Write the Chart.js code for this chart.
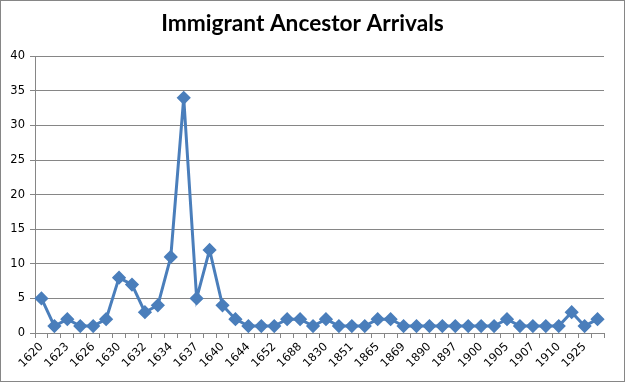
<!DOCTYPE html>
<html>
<head>
<meta charset="utf-8">
<script src="https://cdn.jsdelivr.net/npm/chart.js@4"></script>
<style>
  html, body { margin: 0; padding: 0; background: #fff; }
  #wrap { width: 623px; height: 380px; border: 1px solid #868686; position: relative; }
  canvas { display: block; }
</style>
</head>
<body>
<div id="wrap"><canvas id="c" width="623" height="380"></canvas></div>
<script>
// Categories (odd-index years are hidden on the axis; estimated)
const years = ["1620","1621","1623","1624","1626","1628","1630","1631","1632","1633",
               "1634","1635","1637","1638","1640","1642","1644","1650","1652","1680",
               "1688","1700","1830","1840","1851","1860","1865","1867","1869","1880",
               "1890","1893","1897","1899","1900","1903","1905","1906","1907","1909",
               "1910","1920","1925","1930"];
// Number of immigrant ancestor arrivals
const arrivals = [5,1,2,1,1,2,8,7,3,4,
                  11,34,5,12,4,2,1,1,1,2,
                  2,1,2,1,1,1,2,2,1,1,
                  1,1,1,1,1,1,2,1,1,1,
                  1,3,1,2];
const yTicks = [0,5,10,15,20,25,30,35,40];
const chartTitle = "Immigrant Ancestor Arrivals";

const gridGray = "#868686";
const lineBlue = "#4A7EBB";

new Chart(document.getElementById("c"), {
  type: "line",
  data: {
    labels: years,
    datasets: [{
      data: arrivals,
      borderColor: lineBlue,
      backgroundColor: lineBlue,
      borderWidth: 3,
      pointStyle: "rectRot",
      pointRadius: 5,
      pointHoverRadius: 5,
      pointBackgroundColor: lineBlue,
      pointBorderColor: lineBlue,
      tension: 0,
      fill: false
    }]
  },
  options: {
    responsive: false,
    animation: false,
    layout: { padding: { left: 0, right: 20, top: 0, bottom: 0 } },
    plugins: {
      legend: { display: false },
      tooltip: { enabled: false },
      title: {
        display: true,
        text: chartTitle,
        color: "#000",
        font: { family: "Lato", size: 22.7, weight: "bold", lineHeight: 1.2 },
        padding: { top: 9, bottom: 19 }
      }
    },
    scales: {
      x: {
        offset: true,
        grid: { display: true, drawOnChartArea: false, drawTicks: true, tickLength: 5, color: gridGray, offset: true },
        border: { display: true, color: gridGray, width: 1 },
        ticks: {
          autoSkip: false,
          maxRotation: 45,
          minRotation: 45,
          padding: 2,
          color: "#000",
          font: { family: "DejaVu Sans", size: 11.5 },
          callback: function(v, i) { return i % 2 === 0 ? years[i] : ""; }
        },
        afterFit: function(s) { s.height = 48; }
      },
      y: {
        min: 0,
        max: 40,
        afterBuildTicks: function(s) { s.ticks = yTicks.map(v => ({ value: v })); },
        grid: { color: gridGray, drawTicks: true, tickLength: 5 },
        border: { display: true, color: gridGray, width: 1 },
        ticks: {
          padding: 5,
          color: "#000",
          font: { family: "DejaVu Sans", size: 11.5 }
        },
        afterFit: function(s) { s.width = 34; }
      }
    }
  }
});
</script>
</body>
</html>
